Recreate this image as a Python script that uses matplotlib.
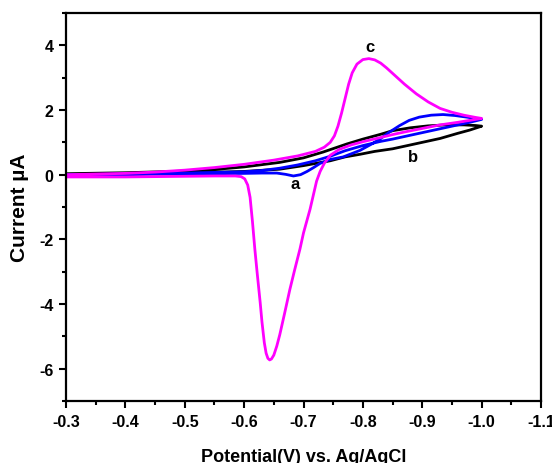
import matplotlib
matplotlib.use("Agg")
import matplotlib.pyplot as plt
from matplotlib.ticker import MultipleLocator, FormatStrFormatter

plt.rcParams["font.family"] = ["Liberation Sans", "DejaVu Sans"]
plt.rcParams["font.weight"] = "bold"
plt.rcParams["axes.unicode_minus"] = False

# curve a (blue): forward scan with small dip, then return
a_E = [-0.30, -0.40, -0.50, -0.55, -0.60, -0.63, -0.655, -0.67, -0.683, -0.695,
       -0.706, -0.717, -0.728, -0.745, -0.767, -0.795, -0.815, -0.83, -0.845,
       -0.862, -0.878, -0.895, -0.915, -0.935, -0.955, -0.975, -1.00,
       -0.98, -0.95, -0.92, -0.90, -0.87, -0.85, -0.83, -0.80, -0.77, -0.745,
       -0.72, -0.69, -0.66, -0.63, -0.60, -0.50, -0.40, -0.30]
a_I = [0.00, 0.01, 0.02, 0.03, 0.04, 0.05, 0.05, 0.01, -0.04, 0.00,
       0.10, 0.22, 0.35, 0.47, 0.55, 0.75, 0.95, 1.12, 1.32,
       1.52, 1.68, 1.78, 1.84, 1.86, 1.83, 1.78, 1.71,
       1.62, 1.50, 1.38, 1.30, 1.18, 1.10, 1.03, 0.90, 0.74, 0.57,
       0.43, 0.30, 0.20, 0.13, 0.09, 0.05, 0.02, 0.00]

# curve b (black)
b_E = [-0.30, -0.40, -0.50, -0.55, -0.60, -0.66, -0.70, -0.733, -0.773, -0.80,
       -0.83, -0.85, -0.88, -0.91, -0.94, -0.97, -0.99, -1.00,
       -0.98, -0.96, -0.93, -0.90, -0.87, -0.85, -0.82, -0.795, -0.77,
       -0.745, -0.70, -0.66, -0.60, -0.50, -0.40, -0.30]
b_I = [0.03, 0.06, 0.11, 0.16, 0.24, 0.38, 0.52, 0.70, 0.95, 1.10,
       1.25, 1.36, 1.45, 1.51, 1.54, 1.54, 1.52, 1.50,
       1.38, 1.28, 1.12, 1.00, 0.88, 0.80, 0.72, 0.63, 0.55,
       0.43, 0.28, 0.17, 0.10, 0.05, 0.02, 0.00]

# curve c (magenta)
c_E = [-0.30, -0.35, -0.40, -0.45, -0.50, -0.55, -0.60, -0.65, -0.69, -0.72,
       -0.735, -0.745, -0.752, -0.758, -0.764, -0.770, -0.776, -0.782, -0.790,
       -0.800, -0.810, -0.820, -0.830, -0.840, -0.855, -0.870, -0.890, -0.910,
       -0.930, -0.950, -0.970, -0.990, -1.000,
       -0.98, -0.96, -0.93, -0.90, -0.87, -0.85, -0.83, -0.80, -0.78, -0.76,
       -0.745, -0.735, -0.728, -0.722, -0.711, -0.700, -0.694, -0.685, -0.677,
       -0.668, -0.660, -0.655, -0.650, -0.646, -0.643, -0.640, -0.637, -0.634,
       -0.630, -0.627, -0.622, -0.618, -0.614, -0.610, -0.606, -0.601, -0.595,
       -0.585, -0.55, -0.50, -0.45, -0.40, -0.35, -0.30]
c_I = [0.00, 0.02, 0.04, 0.08, 0.14, 0.22, 0.32, 0.45, 0.58, 0.72,
       0.85, 1.00, 1.20, 1.50, 1.90, 2.35, 2.80, 3.15, 3.42,
       3.56, 3.59, 3.55, 3.45, 3.30, 3.05, 2.80, 2.50, 2.25,
       2.05, 1.93, 1.84, 1.77, 1.74,
       1.68, 1.62, 1.54, 1.43, 1.32, 1.24, 1.15, 1.02, 0.92, 0.78,
       0.60, 0.35, 0.10, -0.20, -1.07, -1.80, -2.30, -2.95, -3.55,
       -4.30, -4.95, -5.30, -5.58, -5.70, -5.73, -5.68, -5.52, -5.20,
       -4.55, -3.95, -3.05, -2.30, -1.45, -0.70, -0.32, -0.13, -0.06,
       -0.04, -0.04, -0.05, -0.06, -0.07, -0.07, -0.07]

labels = ["a", "b", "c"]
label_pos = [(-0.686, -0.28), (-0.885, 0.55), (-0.812, 3.95)]

fig = plt.figure(figsize=(5.52, 4.64), dpi=100)
ax = fig.add_axes([0.1196, 0.1336, 0.8605, 0.8362])

ax.plot(b_E, b_I, color="black", lw=2)
ax.plot(a_E, a_I, color="blue", lw=2)
ax.plot(c_E, c_I, color="#ff00ff", lw=2)

for t, (x, y) in zip(labels, label_pos):
    ax.text(x, y, t, fontsize=12, fontweight="bold", ha="center", va="center")

ax.set_xlim(-0.3, -1.1)
ax.set_ylim(-7, 5)
ax.xaxis.set_major_locator(MultipleLocator(0.1))
ax.xaxis.set_minor_locator(MultipleLocator(0.05))
ax.yaxis.set_major_locator(MultipleLocator(2))
ax.yaxis.set_minor_locator(MultipleLocator(1))
ax.xaxis.set_major_formatter(FormatStrFormatter("%.1f"))
ax.yaxis.set_major_formatter(FormatStrFormatter("%d"))

for s in ax.spines.values():
    s.set_linewidth(1.6)
ax.tick_params(which="major", direction="out", length=5, width=1.5, labelsize=11.5, pad=4)
ax.tick_params(which="minor", direction="out", length=3, width=1.5)
ax.tick_params(top=False, right=False)

ax.set_xlabel("Potential(V) vs. Ag/AgCl", fontsize=13, fontweight="bold", labelpad=14)
ax.set_ylabel("Current \u00b5A", fontsize=15, fontweight="bold", labelpad=7)

fig.savefig("out.png", dpi=100)
